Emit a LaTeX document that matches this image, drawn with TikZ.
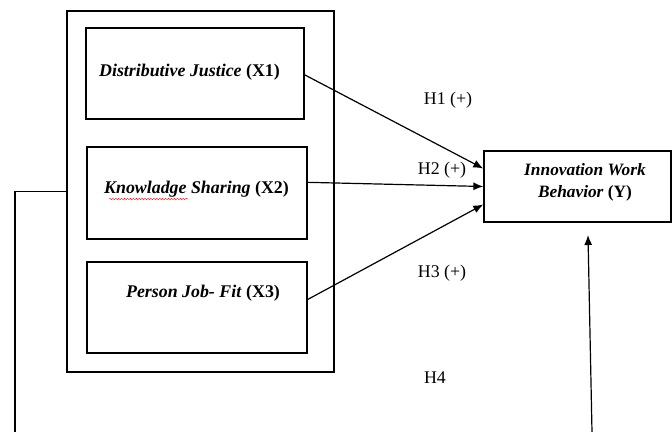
\documentclass[tikz,border=0pt]{standalone}
\usepackage{fontspec}
\setmainfont{Liberation Serif}
\usetikzlibrary{arrows.meta,decorations.pathmorphing}

\begin{document}
\begin{tikzpicture}[
    x=0.75pt, y=-0.75pt,
    every node/.style={font=\fontsize{13.4}{16}\selectfont},
    varbox/.style={draw, line width=1pt, inner sep=0pt},
    link/.style={draw, line width=0.9pt, -{Latex[length=7.5pt,width=6pt]}},
    hyp/.style={inner sep=0pt}
]
\useasboundingbox (0,0) rectangle (672,432);

% independent variables
\node[varbox, minimum width=200.25pt, minimum height=270.75pt] (outer) at (200.5,191.5) {};
\node[varbox, minimum width=163.5pt, minimum height=68.25pt] (x1) at (195,73.5) {};
\node[varbox, minimum width=165pt, minimum height=69pt] (x2) at (197,193) {};
\node[varbox, minimum width=165pt, minimum height=68.25pt] (x3) at (197,307.5) {};
\node[hyp] (t1) at (189.5,72) {\textbf{\textit{Distributive Justice}} \textbf{(X1)}};
\node[hyp] (t2) at (196.5,189) {\textbf{\textit{Knowladge Sharing}} \textbf{(X2)}};
\node[hyp] (t3) at (203,293) {\textbf{\textit{Person Job- Fit}} \textbf{(X3)}};
\draw[red, line width=0.3pt, decorate, decoration={snake, amplitude=0.5pt, segment length=2.2pt}]
    (109,199) -- (188,199);

% dependent variable
\node[varbox, minimum width=140.25pt, minimum height=53.25pt] (y) at (577.5,186.5) {};
\node[hyp, align=center, font=\fontsize{13}{16.5}\selectfont] (ty) at (585,182) {\textbf{\textit{Innovation Work}}\\ \textbf{\textit{Behavior}} \textbf{(Y)}};

% hypotheses
\draw[link] ([yshift=-1pt]x1.east) -- ([yshift=13.5pt]y.west);
\draw[link] ([yshift=8pt]x2.east) -- (y.west);
\draw[link] ([yshift=6pt]x3.east) -- ([yshift=-13.5pt]y.west);
\node[hyp] (h1) at (448,100) {H1 (+)};
\node[hyp] (h2) at (442,170) {H2 (+)};
\node[hyp] (h3) at (442,273) {H3 (+)};
\node[hyp] (h4) at (435,378) {H4};

% H4 path
\coordinate (lb) at (15,432);
\coordinate (rb) at (592,432);
\coordinate (rt) at (588,235);
\draw[line width=0.9pt] (lb) |- (outer.west);
\draw[link] (rb) -- (rt);
\end{tikzpicture}
\end{document}
